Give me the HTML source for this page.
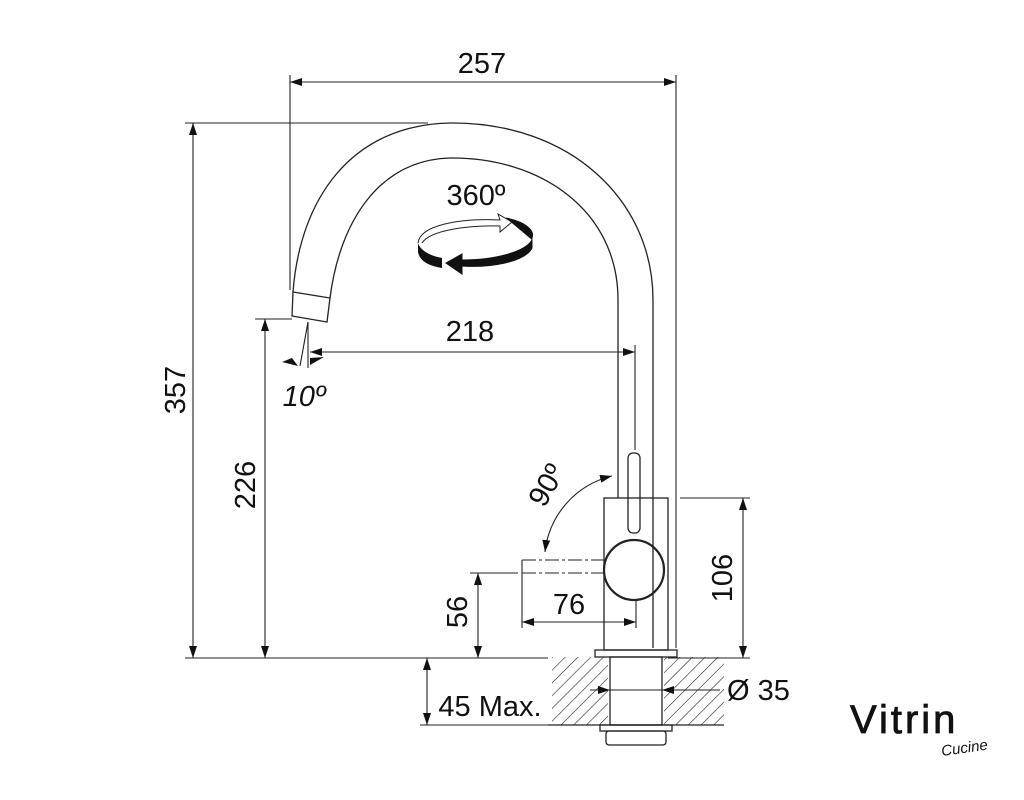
<!DOCTYPE html>
<html><head><meta charset="utf-8"><style>
html,body{margin:0;padding:0;background:#fff;width:1024px;height:800px;overflow:hidden}
svg{display:block}
text{font-family:"Liberation Sans",sans-serif;fill:#111}
</style></head><body>
<svg width="1024" height="800" viewBox="0 0 1024 800" xmlns="http://www.w3.org/2000/svg">
<defs>
<marker id="a" markerWidth="12" markerHeight="8" refX="12" refY="4" orient="auto-start-reverse" markerUnits="userSpaceOnUse"><path d="M0,0 L12,4 L0,8 z" fill="#111"/></marker>
<pattern id="h" width="9" height="9" patternUnits="userSpaceOnUse" patternTransform="rotate(45)"><line x1="0" y1="0" x2="0" y2="9" stroke="#222" stroke-width="1.2"/></pattern>
</defs>
<g fill="none" stroke="#222" stroke-width="1.3">
<path d="M293,292 C300,200 350,125 450,123 C570,122 653,200 653,300 L653,648"/>
<path d="M330,298 C340,220 380,160 450,158 C540,157 618,210 618,300 L618,498"/>
<path d="M293,292 L330,298 L327,322 L292,316 Z"/>
<rect x="604" y="498" width="64" height="152"/>
<rect x="628" y="453" width="12" height="80" rx="5"/>
<circle cx="634" cy="570" r="30" stroke-width="2.2"/>
<rect x="595" y="650" width="82" height="7"/>
<rect x="552" y="657" width="56" height="68" fill="url(#h)" stroke="none"/>
<rect x="664" y="657" width="60" height="68" fill="url(#h)" stroke="none"/>
<rect x="610" y="657" width="52" height="68"/>
<line x1="548" y1="725" x2="724" y2="725"/>
<rect x="600" y="725" width="72" height="6"/>
<rect x="606" y="731" width="60" height="14" rx="3"/>
<g stroke-width="1.1">
<line x1="290" y1="75" x2="290" y2="290"/>
<line x1="676" y1="75" x2="676" y2="648"/>
<line x1="290" y1="82" x2="676" y2="82" marker-start="url(#a)" marker-end="url(#a)"/>
<line x1="185" y1="123" x2="428" y2="123"/>
<line x1="185" y1="658" x2="548" y2="658"/>
<line x1="668" y1="658" x2="750" y2="658"/>
<line x1="193" y1="123" x2="193" y2="658" marker-start="url(#a)" marker-end="url(#a)"/>
<line x1="255" y1="319" x2="292" y2="319"/>
<line x1="265" y1="319" x2="265" y2="658" marker-start="url(#a)" marker-end="url(#a)"/>
<line x1="308" y1="322" x2="308" y2="368"/>
<line x1="308" y1="322" x2="300" y2="366"/>
<line x1="310" y1="352" x2="635" y2="352" marker-start="url(#a)" marker-end="url(#a)"/>
<line x1="635" y1="345" x2="635" y2="450"/>
<line x1="680" y1="498" x2="750" y2="498"/>
<line x1="743" y1="498" x2="743" y2="658" marker-start="url(#a)" marker-end="url(#a)"/>
<line x1="470" y1="573" x2="518" y2="573"/>
<line x1="478" y1="573" x2="478" y2="658" marker-start="url(#a)" marker-end="url(#a)"/>
<line x1="522" y1="560" x2="604" y2="560" stroke-dasharray="14,3,3,3"/>
<line x1="522" y1="573" x2="604" y2="573" stroke-dasharray="14,3,3,3"/>
<line x1="522" y1="560" x2="522" y2="628"/>
<line x1="636" y1="600" x2="636" y2="628"/>
<line x1="522" y1="622" x2="636" y2="622" marker-start="url(#a)" marker-end="url(#a)"/>
<path d="M612,476 A88,88 0 0 0 545,552" marker-start="url(#a)" marker-end="url(#a)"/>
<line x1="427" y1="658" x2="427" y2="725" marker-start="url(#a)" marker-end="url(#a)"/>
<line x1="420" y1="725" x2="548" y2="725"/>
<line x1="590" y1="690" x2="610" y2="690" marker-end="url(#a)"/>
<line x1="610" y1="690" x2="662" y2="690"/>
<line x1="682" y1="690" x2="662" y2="690" marker-end="url(#a)"/>
<line x1="682" y1="690" x2="720" y2="690"/>
</g>
</g>
<path d="M418,243 C420,225 460,218 500,220 L498,214 L512,222 L500,232 L500,226 C470,225 430,230 422,243" fill="#fff" stroke="#222" stroke-width="1"/>
<path d="M506,218 C525,222 535,230 532,238 L532,248 C525,262 490,268 462,266 L462,274 L446,263 L462,254 L462,260 C495,260 525,252 532,240" fill="#111" stroke="#111"/>
<path d="M418,243 L418,252 C420,262 430,266 442,268 L442,258 C430,256 420,250 418,243Z" fill="#111"/>
<path d="M292,358 L282,362 L298,366Z" fill="#111"/>
<path d="M310,358 L324,357 L310,365Z" fill="#111"/>
<g font-size="29">
<text x="482" y="73" text-anchor="middle">257</text>
<text x="470" y="341" text-anchor="middle">218</text>
<text x="476" y="205" text-anchor="middle">360º</text>
<text x="304" y="406" text-anchor="middle" font-style="italic">10º</text>
<text x="569" y="614" text-anchor="middle">76</text>
<text x="185" y="390" text-anchor="middle" transform="rotate(-90 185 390)">357</text>
<text x="255" y="485" text-anchor="middle" transform="rotate(-90 255 485)">226</text>
<text x="467" y="612" text-anchor="middle" transform="rotate(-90 467 612)">56</text>
<text x="732" y="578" text-anchor="middle" transform="rotate(-90 732 578)">106</text>
<text x="555" y="490" text-anchor="middle" transform="rotate(-60 555 490)">90º</text>
<text x="490" y="716" text-anchor="middle">45 Max.</text>
<text x="727" y="700">Ø 35</text>
</g>
<text x="850" y="733" font-size="40" style="letter-spacing:3px" stroke="#111" stroke-width="0.8">Vitrin</text>
<text x="942" y="756" font-size="15" font-style="italic" transform="rotate(-8 942 756)">Cucine</text>
</svg>
</body></html>
